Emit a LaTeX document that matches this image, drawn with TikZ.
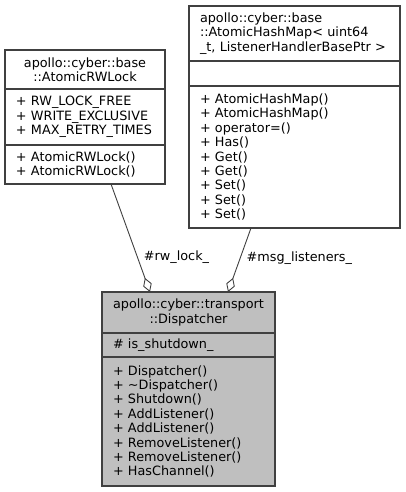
\documentclass[tikz,border=0pt]{standalone}
\usepackage{fontspec}
\setmainfont{DejaVu Sans}
\usetikzlibrary{positioning,arrows.meta}
\definecolor{boxline}{HTML}{404040}
\definecolor{dispfill}{HTML}{BFBFBF}

\begin{document}
\begin{tikzpicture}[x=1pt, y=-1pt,
  part/.style={draw=boxline, line width=1.1pt, outer sep=0pt, inner xsep=11pt, inner ysep=0pt,
    font=\fontsize{12.8}{14.4}\selectfont, align=left},
  assoc/.style={draw=boxline, line width=0.9pt, -{Diamond[open, length=15pt, width=9pt]}},
  edgelabel/.style={right=4pt, inner sep=2pt, font=\fontsize{12.8}{14.4}\selectfont}]
\useasboundingbox (0,0) rectangle (405,492);

% AtomicRWLock
\node[part, anchor=north, text width=138pt, align=center, minimum height=39pt] (lockname) at (85,50)
  {apollo::cyber::base\\::AtomicRWLock};
\node[part, below=0pt of lockname, text width=138pt, minimum height=56pt] (lockattr)
  {+ RW\_LOCK\_FREE\\+ WRITE\_EXCLUSIVE\\+ MAX\_RETRY\_TIMES};
\node[part, below=0pt of lockattr, text width=138pt, minimum height=39pt] (lockops)
  {+ AtomicRWLock()\\+ AtomicRWLock()};

% AtomicHashMap
\node[part, anchor=north, text width=189pt, minimum height=55pt] (mapname) at (294.5,6)
  {apollo::cyber::base\\::AtomicHashMap< uint64\\\_t, ListenerHandlerBasePtr >};
\node[part, below=0pt of mapname, text width=189pt, minimum height=25pt] (mapattr) {};
\node[part, below=0pt of mapattr, text width=189pt, minimum height=142pt] (mapops)
  {+ AtomicHashMap()\\+ AtomicHashMap()\\+ operator=()\\+ Has()\\+ Get()\\+ Get()\\+ Set()\\+ Set()\\+ Set()};

% Dispatcher
\node[part, fill=dispfill, anchor=north, text width=151pt, align=center, minimum height=41pt] (dispname) at (188.5,292)
  {apollo::cyber::transport\\::Dispatcher};
\node[part, fill=dispfill, below=0pt of dispname, text width=151pt, minimum height=24pt] (dispattr)
  {\# is\_shutdown\_};
\node[part, fill=dispfill, below=0pt of dispattr, text width=151pt, minimum height=129pt] (dispops)
  {+ Dispatcher()\\+ \textasciitilde Dispatcher()\\+ Shutdown()\\+ AddListener()\\+ AddListener()\\+ RemoveListener()\\+ RemoveListener()\\+ HasChannel()};

\draw[assoc] ([xshift=26pt]lockops.south) -- node[edgelabel, pos=0.68] {\#rw\_lock\_} ([xshift=-38.5pt]dispname.north);
\draw[assoc] ([xshift=-43.5pt]mapops.south) -- node[edgelabel, pos=0.47] {\#msg\_listeners\_} ([xshift=39.5pt]dispname.north);
\end{tikzpicture}
\end{document}
